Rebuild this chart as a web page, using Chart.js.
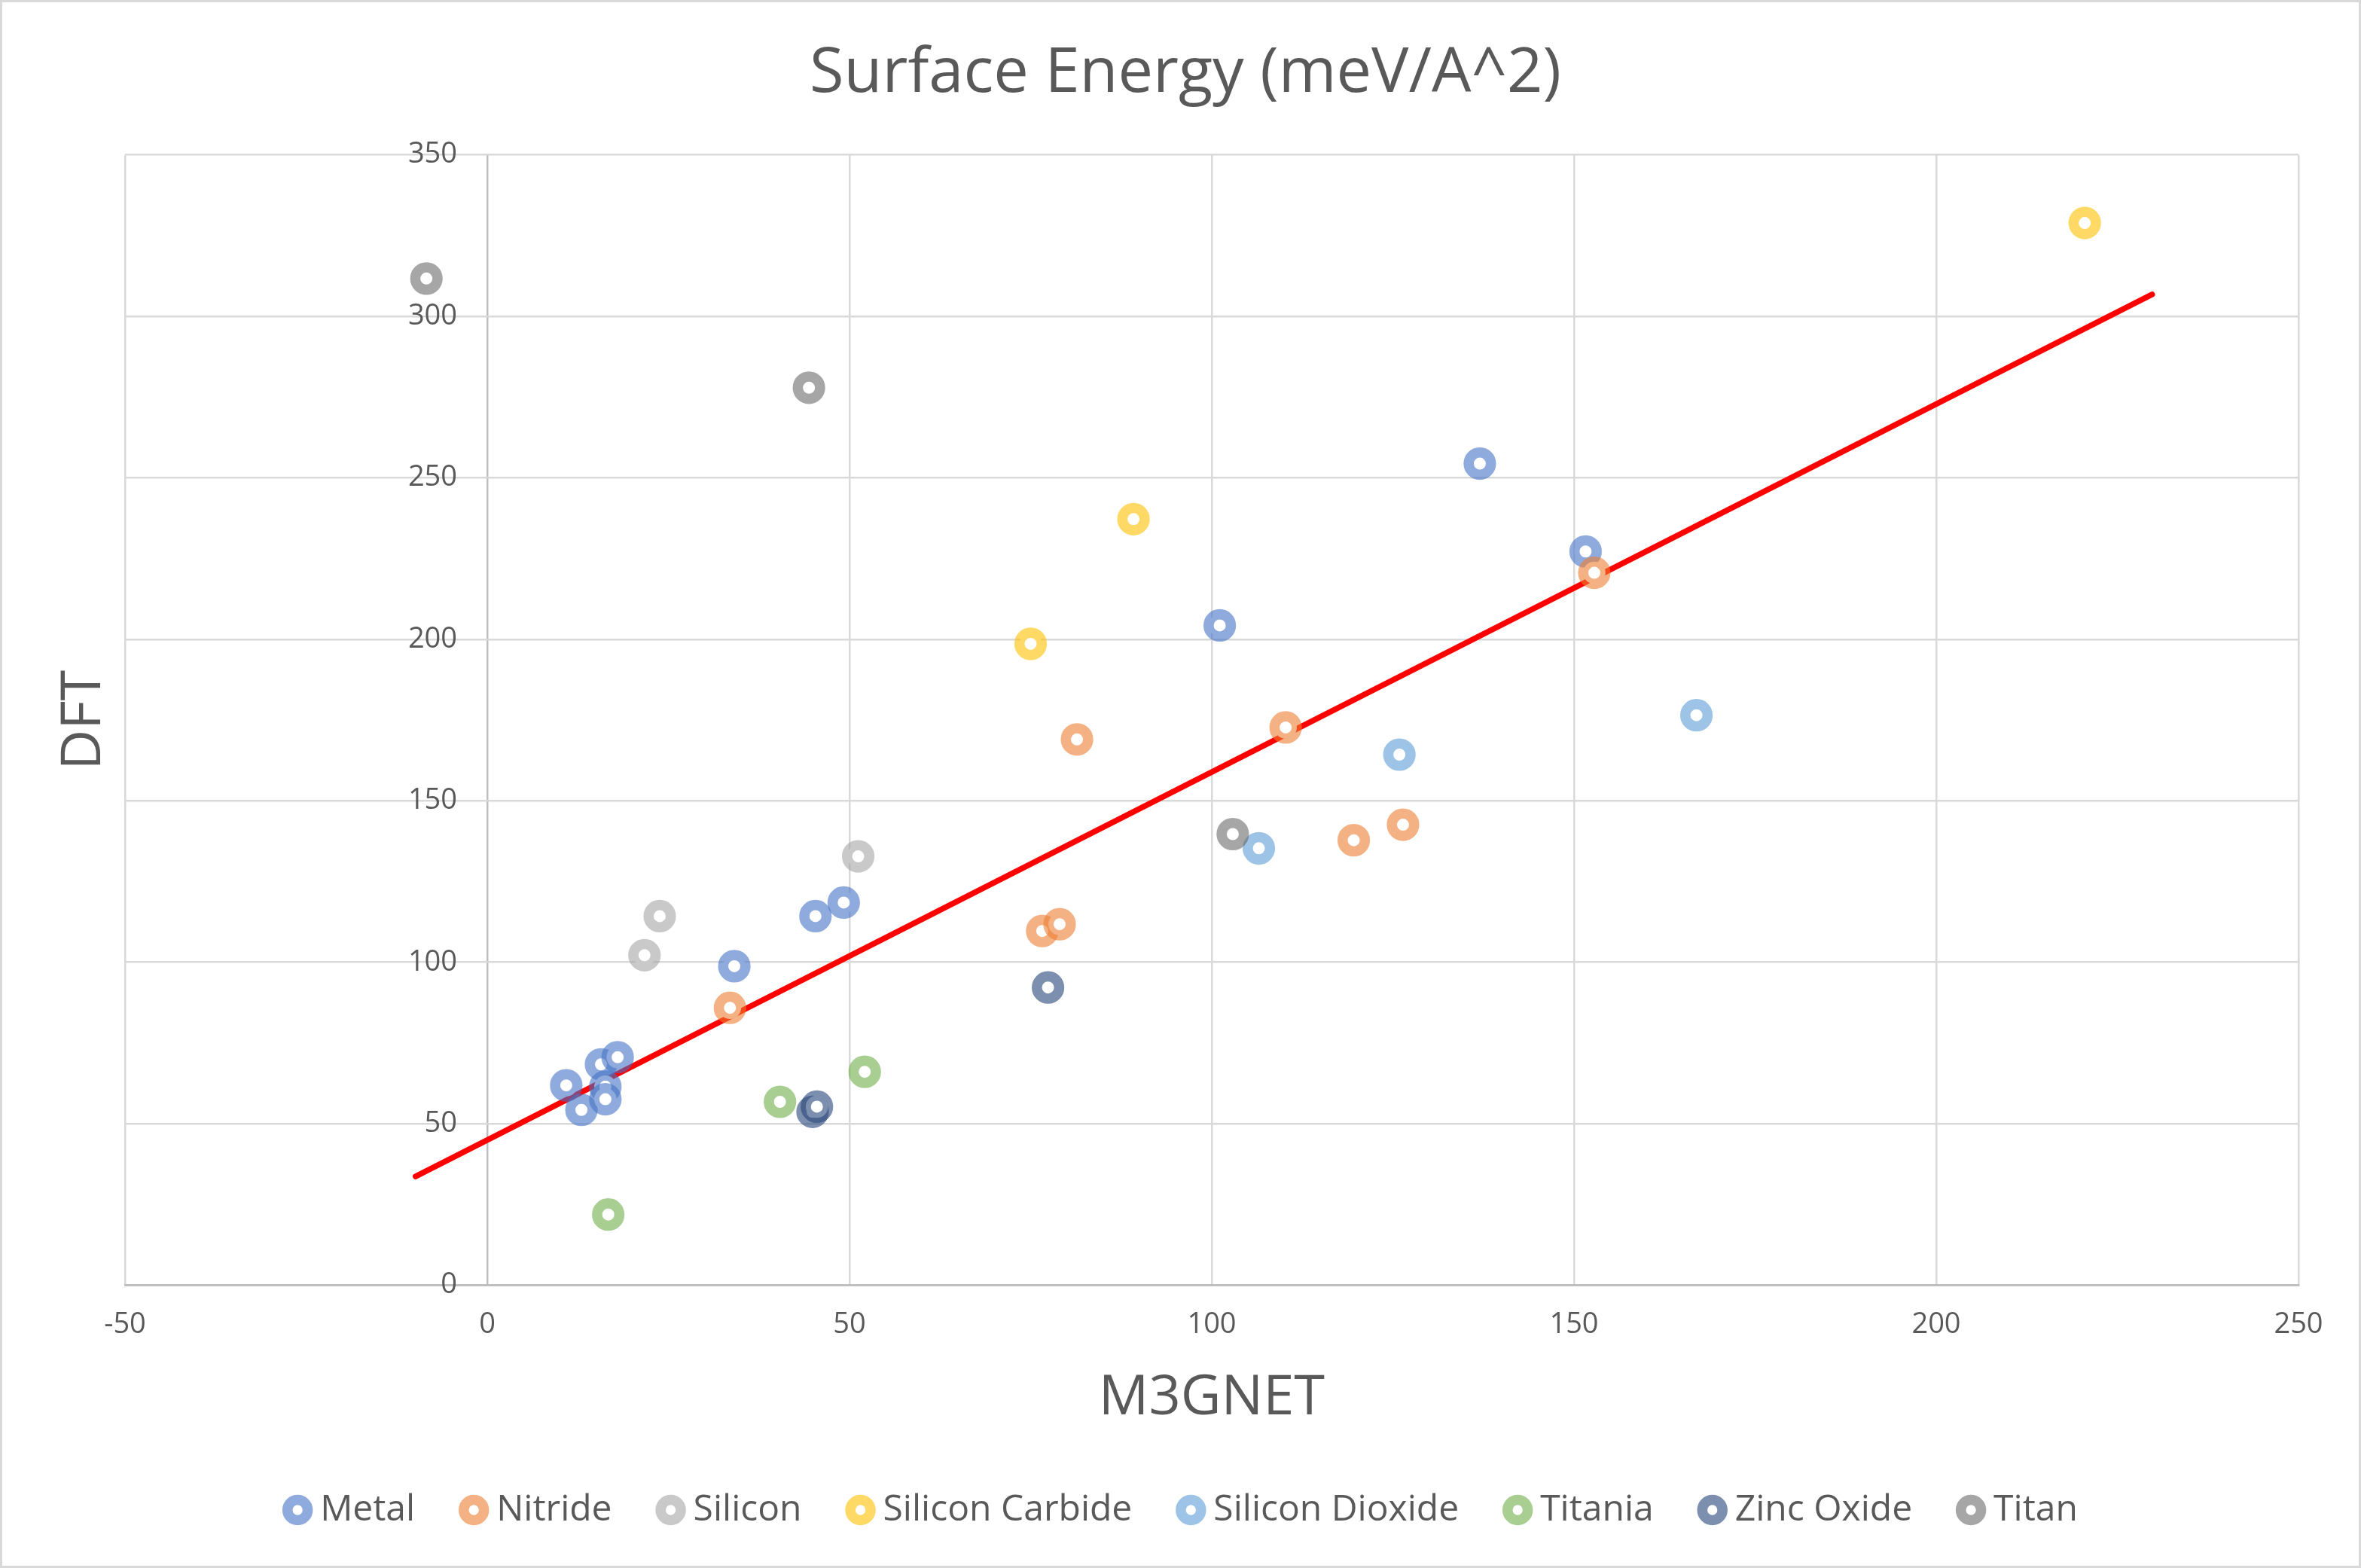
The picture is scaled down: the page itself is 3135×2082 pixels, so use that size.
<!DOCTYPE html>
<html>
<head>
<meta charset="utf-8">
<style>
  html, body { margin: 0; padding: 0; background: #ffffff; }
  #wrap { width: 3135px; height: 2082px; }
</style>
<script src="https://cdn.jsdelivr.net/npm/chart.js@4.4.1/dist/chart.umd.min.js"></script>
</head>
<body>
<div id="wrap"><canvas id="c" width="3135" height="2082"></canvas></div>
<script>
// ---------------- data ----------------
const TITLE = 'Surface Energy (meV/A^2)';
const X_TITLE = 'M3GNET';
const Y_TITLE = 'DFT';
const X_MIN = -50, X_MAX = 250, X_STEP = 50;
const Y_MIN = 0, Y_MAX = 350, Y_STEP = 50;

const SERIES_NAMES = ['Metal', 'Nitride', 'Silicon', 'Silicon Carbide', 'Silicon Dioxide', 'Titania', 'Zinc Oxide', 'Titan'];

const metal = [[10.9, 61.9], [13.0, 54.3], [15.7, 68.4], [16.3, 61.5], [16.3, 57.6], [18.0, 70.6],
               [34.1, 98.8], [45.3, 114.3], [49.2, 118.5], [101.1, 204.3], [137.0, 254.4], [151.6, 227.2]];
const nitride = [[33.5, 85.9], [76.6, 109.7], [79.0, 111.8], [81.4, 169.0], [110.2, 172.7],
                 [119.6, 137.8], [126.4, 142.6], [152.8, 220.6]];
const silicon = [[21.7, 102.2], [23.8, 114.3], [51.2, 132.8]];
const siliconCarbide = [[75.0, 198.6], [89.2, 237.2], [220.5, 328.9]];
const siliconDioxide = [[106.5, 135.3], [125.9, 164.3], [166.9, 176.5]];
const titania = [[16.7, 21.9], [40.4, 56.8], [52.1, 66.1]];
const zincOxide = [[44.9, 53.7], [45.5, 55.3], [77.4, 92.2]];
const titan = [[-8.4, 311.7], [44.4, 277.9], [102.9, 139.7]];
const trendLine = [[-9.9, 33.7], [229.8, 306.8]];

const SERIES_POINTS = [metal, nitride, silicon, siliconCarbide, siliconDioxide, titania, zincOxide, titan];
const SERIES_COLORS = ['rgba(68,114,196,0.6)', 'rgba(237,125,49,0.6)', 'rgba(165,165,165,0.6)', 'rgba(255,192,0,0.6)',
                       'rgba(91,155,213,0.6)', 'rgba(112,173,71,0.6)', 'rgba(38,68,120,0.6)', 'rgba(106,106,106,0.6)'];

// ---------------- styles ----------------
const TEXT = '#595959';
const GRID = '#D9D9D9';
const AXIS = '#BFBFBF';
const FONT = "'Open Sans', 'Noto Sans', sans-serif";
// y tick labels sit just left of the vertical line x = 0 (axis placed slightly left so labels keep a gap)
const Y_LABEL_ANCHOR = -4.15;

Chart.defaults.font.family = FONT;
Chart.defaults.color = TEXT;

const toXY = arr => arr.map(p => ({ x: p[0], y: p[1] }));

const datasets = SERIES_NAMES.map((name, i) => ({
  type: 'scatter',
  label: name,
  data: toXY(SERIES_POINTS[i]),
  borderColor: SERIES_COLORS[i],
  backgroundColor: '#ffffff',
  pointRadius: 14.8,
  pointHoverRadius: 14.8,
  borderWidth: 13.6,
  pointBorderWidth: 13.6,
  pointStyle: 'circle',
  order: SERIES_NAMES.length - i,
  xAxisID: 'x',
  yAxisID: 'y'
}));

datasets.push({
  type: 'line',
  label: 'trend',
  data: toXY(trendLine),
  borderColor: '#FF0000',
  borderWidth: 7.5,
  borderCapStyle: 'round',
  pointRadius: 0,
  fill: false,
  tension: 0,
  order: 100,
  xAxisID: 'x',
  yAxisID: 'y'
});

const framePlugin = {
  id: 'frame',
  beforeDraw(chart) {
    const ctx = chart.ctx;
    ctx.save();
    ctx.fillStyle = '#ffffff';
    ctx.fillRect(0, 0, chart.width, chart.height);
    ctx.restore();
  },
  afterDraw(chart) {
    const ctx = chart.ctx;
    ctx.save();
    ctx.strokeStyle = GRID;
    ctx.lineWidth = 3;
    ctx.strokeRect(1.5, 1.5, chart.width - 3, chart.height - 3);
    ctx.restore();
  }
};

new Chart(document.getElementById('c'), {
  data: { datasets },
  plugins: [framePlugin],
  options: {
    responsive: false,
    maintainAspectRatio: false,
    devicePixelRatio: 1,
    animation: false,
    layout: { padding: { left: 20, right: 7, top: 0, bottom: 43 } },
    plugins: {
      tooltip: { enabled: false },
      title: {
        display: true,
        text: TITLE,
        color: TEXT,
        font: { size: 83, weight: 'normal', family: FONT, lineHeight: 1.2 },
        padding: { top: 49, bottom: 57 }
      },
      legend: {
        display: true,
        position: 'bottom',
        labels: {
          usePointStyle: true,
          boxWidth: 12,
          boxHeight: 19,
          padding: 72,
          color: TEXT,
          font: { size: 48, family: FONT },
          filter: item => item.datasetIndex < SERIES_NAMES.length,
          sort: (a, b) => a.datasetIndex - b.datasetIndex
        }
      }
    },
    scales: {
      x: {
        type: 'linear',
        position: 'bottom',
        min: X_MIN,
        max: X_MAX,
        ticks: { stepSize: X_STEP, padding: 30, color: TEXT, font: { size: 38 } },
        grid: {
          drawTicks: false,
          lineWidth: 2.5,
          color: c => (c.tick && c.tick.value === 0) ? AXIS : GRID
        },
        border: { display: true, color: AXIS, width: 3 },
        title: {
          display: true,
          text: X_TITLE,
          color: TEXT,
          font: { size: 74, lineHeight: 1.2 },
          padding: { top: 0, bottom: 8 }
        }
      },
      y: {
        type: 'linear',
        position: 'left',
        min: Y_MIN,
        max: Y_MAX,
        ticks: { display: false, stepSize: Y_STEP },
        grid: {
          drawTicks: false,
          lineWidth: 2.5,
          color: c => (c.tick && c.tick.value === 0) ? AXIS : GRID
        },
        border: { display: false },
        title: {
          display: true,
          text: Y_TITLE,
          color: TEXT,
          font: { size: 74, lineHeight: 1.2 },
          padding: { top: 47.6, bottom: 9.6 }
        }
      },
      y2: {
        type: 'linear',
        axis: 'y',
        position: { x: Y_LABEL_ANCHOR },
        min: Y_MIN,
        max: Y_MAX,
        ticks: { stepSize: Y_STEP, padding: 0, color: TEXT, font: { size: 38 } },
        grid: { display: false, drawTicks: false },
        border: { display: false }
      },
      yRight: {
        type: 'linear',
        axis: 'y',
        position: 'right',
        min: Y_MIN,
        max: Y_MAX,
        ticks: { display: false },
        grid: { display: false, drawTicks: false },
        border: { display: false },
        title: { display: true, text: '', font: { size: 10, lineHeight: 1 }, padding: { top: 33, bottom: 33 } }
      }
    }
  }
});
</script>
</body>
</html>
